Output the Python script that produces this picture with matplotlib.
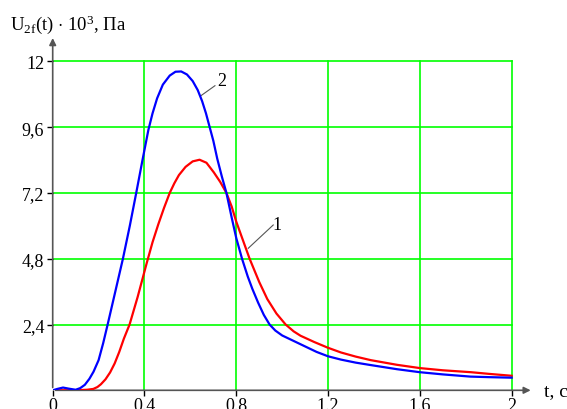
import matplotlib
matplotlib.use("Agg")
import matplotlib.pyplot as plt

plt.rcParams["font.family"] = ["Liberation Serif", "DejaVu Serif"]
plt.rcParams["mathtext.fontset"] = "custom"
plt.rcParams["mathtext.rm"] = "Liberation Serif"
plt.rcParams["mathtext.it"] = "Liberation Serif:italic"

# curve 2 (blue)
t2 = [0.0, 0.02, 0.045, 0.07, 0.1, 0.12, 0.14, 0.16, 0.178, 0.2, 0.22, 0.24,
      0.27, 0.306, 0.336, 0.364, 0.392, 0.417, 0.435, 0.455, 0.48, 0.51, 0.535,
      0.56, 0.585, 0.61, 0.632, 0.651, 0.668, 0.684, 0.7, 0.717, 0.737, 0.757,
      0.78, 0.8, 0.825, 0.85, 0.87, 0.895, 0.92, 0.945, 0.97, 1.0, 1.05, 1.1,
      1.15, 1.2, 1.256, 1.32, 1.386, 1.5, 1.6, 1.7, 1.82, 1.9, 2.0]
u2 = [0.0, 0.05, 0.1, 0.06, 0.02, 0.08, 0.2, 0.42, 0.68, 1.1, 1.72, 2.42,
      3.5, 4.8, 6.0, 7.2, 8.43, 9.5, 10.1, 10.65, 11.15, 11.48, 11.62,
      11.63, 11.52, 11.28, 10.95, 10.55, 10.1, 9.6, 9.1, 8.45, 7.8, 7.2,
      6.3, 5.55, 4.8, 4.15, 3.7, 3.2, 2.75, 2.4, 2.18, 2.0, 1.8, 1.6,
      1.4, 1.24, 1.12, 1.01, 0.92, 0.77, 0.66, 0.58, 0.5, 0.48, 0.46]

# curve 1 (red)
t1 = [0.0, 0.1, 0.15, 0.177, 0.195, 0.21, 0.23, 0.25, 0.27, 0.29, 0.31, 0.335,
      0.37, 0.41, 0.435, 0.46, 0.485, 0.51, 0.53, 0.55, 0.579, 0.61, 0.64,
      0.67, 0.702, 0.73, 0.757, 0.78, 0.8, 0.83, 0.858, 0.9, 0.935, 0.975,
      1.015, 1.05, 1.08, 1.14, 1.2, 1.256, 1.32, 1.386, 1.5, 1.6, 1.7, 1.823,
      1.9, 2.0]
u1 = [0.0, 0.0, 0.02, 0.05, 0.12, 0.22, 0.4, 0.65, 0.98, 1.4, 1.88, 2.4,
      3.4, 4.65, 5.4, 6.05, 6.65, 7.2, 7.55, 7.85, 8.15, 8.35, 8.41,
      8.3, 7.95, 7.6, 7.2, 6.7, 6.15, 5.45, 4.8, 3.95, 3.33, 2.8,
      2.4, 2.15, 1.99, 1.76, 1.55, 1.38, 1.23, 1.1, 0.93, 0.81, 0.73, 0.66,
      0.6, 0.53]

xticks = [0, 0.4, 0.8, 1.2, 1.6, 2.0]
xlabels = ["0", "0.4", "0.8", "1.2", "1.6", "2"]
yticks = [2.4, 4.8, 7.2, 9.6, 12]
ylabels = ["2,4", "4,8", "7,2", "9,6", "12"]

fig = plt.figure(figsize=(5.67, 4.10), dpi=100)
ax = fig.add_axes([52.7 / 567, 18.7 / 410, 486.5 / 567, 356.4 / 410])
ax.set_xlim(0, 2.12)
ax.set_ylim(0, 13.0)

for s in ax.spines.values():
    s.set_visible(False)

green = "#00ff00"
for x in xticks[1:]:
    ax.plot([x, x], [0, 12], color=green, lw=1.2, zorder=1)
for y in yticks:
    ax.plot([0, 2.0], [y, y], color=green, lw=1.2, zorder=1)

axc = "#555555"
ax.annotate("", xy=(0, 12.95), xytext=(0, 0),
            arrowprops=dict(arrowstyle="-|>", color=axc, lw=1.2, mutation_scale=10))
ax.annotate("", xy=(2.095, 0), xytext=(0, 0),
            arrowprops=dict(arrowstyle="-|>", color=axc, lw=1.2, mutation_scale=10))

ax.plot(t1, u1, color="#ff0000", lw=1.6, zorder=3)
ax.plot(t2, u2, color="#0000ff", lw=1.6, zorder=3)

ax.plot([0.707, 0.645], [11.11, 10.74], color="#555555", lw=0.8)
ax.text(0.737, 11.29, "2", fontsize=13, ha="center", va="center")
ax.plot([0.961, 0.852], [6.03, 5.18], color="#555555", lw=0.8)
ax.text(0.976, 6.06, "1", fontsize=13, ha="center", va="center")

ax.set_xticks(xticks, xlabels)
ax.set_yticks(yticks, ylabels)
ax.tick_params(axis="both", direction="out", length=4, width=1, color="black",
               labelsize=13, pad=2)
ax.tick_params(axis="x", pad=0.5)

ax.text(2.14, 0.0, "t, c", fontsize=14, ha="left", va="center", clip_on=False)
fig.text(10 / 567, 1 - 25 / 410, r"U$_{\mathrm{2f}}$(t) $\cdot$ 10$^3$, Па",
         fontsize=13.5, ha="left", va="center")

fig.savefig("out.png", dpi=100)
